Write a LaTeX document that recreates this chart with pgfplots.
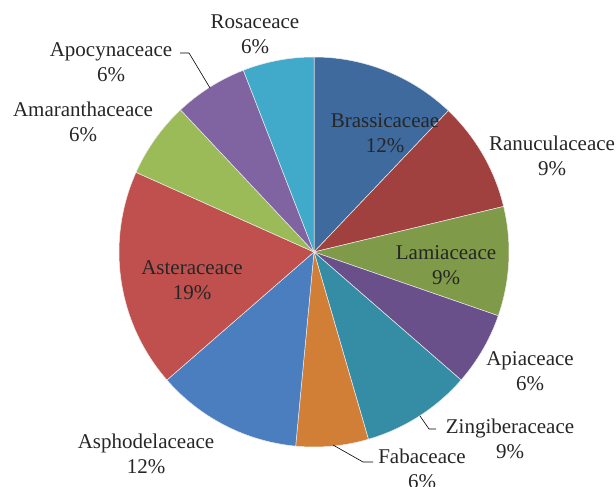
\documentclass[border=0pt]{standalone}
\usepackage{pgfplots}
\pgfplotsset{compat=1.18}
\usepackage{fontspec}
\setmainfont{Liberation Serif}
\definecolor{c1}{HTML}{3E6A9E}
\definecolor{c2}{HTML}{A0403F}
\definecolor{c3}{HTML}{7F9A48}
\definecolor{c4}{HTML}{69508A}
\definecolor{c5}{HTML}{358DA5}
\definecolor{c6}{HTML}{D17E36}
\definecolor{c7}{HTML}{4A7EBF}
\definecolor{c8}{HTML}{C0504D}
\definecolor{c9}{HTML}{9BBB59}
\definecolor{c10}{HTML}{8064A2}
\definecolor{c11}{HTML}{41A9C9}
\definecolor{txt}{HTML}{262626}
\begin{document}
\begin{tikzpicture}
\useasboundingbox (0,0) rectangle (616pt,487pt);
\begin{axis}[
  at={(0,0)}, anchor=origin,
  x=1pt, y=1pt, xmin=0, xmax=616, ymin=0, ymax=487,
  hide axis, clip=false,
]
\gdef\cum{0}
\foreach \v/\c in {12.1/c1, 9.15/c2, 9.05/c3, 6.1/c4, 9.1/c5, 6.0/c6, 12.1/c7, 18.1/c8, 6.3/c9, 6.1/c10, 5.9/c11}{
  \pgfmathsetmacro\aS{90-\cum/100*360}
  \pgfmathsetmacro\newcum{\cum+\v}
  \pgfmathsetmacro\aE{90-\newcum/100*360}
  \global\let\cum\newcum
  \edef\temp{\noexpand\addplot[fill=\c, draw=white!85!gray, line width=0.5pt, domain=\aE:\aS, samples=80, variable=\noexpand\t]
    ({314+195*cos(\noexpand\t)},{235+195*sin(\noexpand\t)}) -- (axis cs:314,235) -- cycle;}
  \temp
}
% leader lines
\draw[black, line width=0.6pt] (axis cs:180,434) -- (axis cs:189,434) -- (axis cs:210,399);
\draw[black, line width=0.6pt] (axis cs:420,71) -- (axis cs:429,58) -- (axis cs:436,58);
\draw[black, line width=0.6pt] (axis cs:333,42) -- (axis cs:363,25) -- (axis cs:373,25);
% labels
\begin{scope}[every node/.style={align=center, text=txt, font=\fontsize{21}{25}\selectfont, inner sep=0pt}]
\node at (axis cs:385,354) {Brassicaceae\\12\%};
\node at (axis cs:552,331) {Ranuculaceace\\9\%};
\node at (axis cs:446,222) {Lamiaceace\\9\%};
\node at (axis cs:530,116) {Apiaceace\\6\%};
\node at (axis cs:510,48.5) {Zingiberaceace\\9\%};
\node at (axis cs:422,18) {Fabaceace\\6\%};
\node at (axis cs:146,33) {Asphodelaceace\\12\%};
\node at (axis cs:192,206.5) {Asteraceace\\19\%};
\node at (axis cs:83,365.5) {Amaranthaceace\\6\%};
\node at (axis cs:111,425) {Apocynaceace\\6\%};
\node at (axis cs:255,452.5) {Rosaceace\\6\%};
\end{scope}
\end{axis}
\end{tikzpicture}
\end{document}
